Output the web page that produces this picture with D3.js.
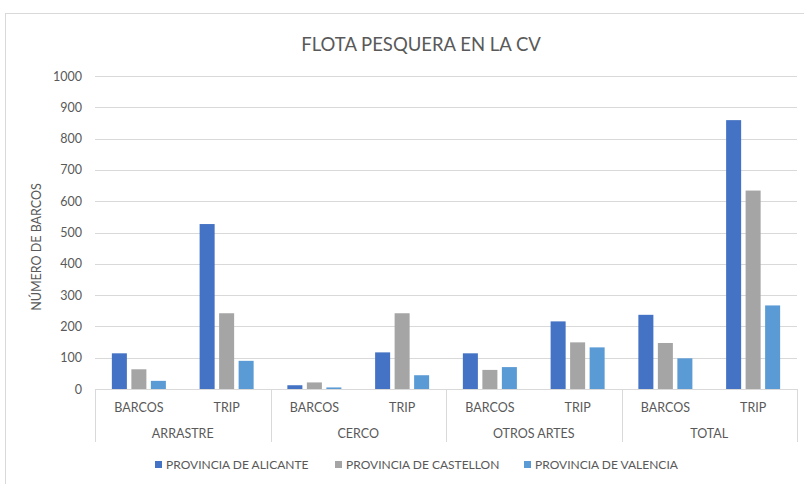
<!DOCTYPE html>
<html><head><meta charset="utf-8">
<script src="https://cdn.jsdelivr.net/npm/d3@7"></script>
<style>body{margin:0;background:#fff;} text{font-family:Lato, "Open Sans", sans-serif;}</style>
</head><body>
<svg id="c" width="804" height="484"></svg>
<script>
const groups = ["ARRASTRE","CERCO","OTROS ARTES","TOTAL"];
const subs = ["BARCOS","TRIP"];
const series = ["PROVINCIA DE ALICANTE","PROVINCIA DE CASTELLON","PROVINCIA DE VALENCIA"];
const colors = ["#4472C4","#A5A5A5","#5B9BD5"];
const alicante = [114,527, 12,117, 114,216, 237,859];
const castellon = [63,242, 21,242, 61,149, 147,634];
const valencia = [26,90, 5,44, 70,133, 98,267];
const yTicks = [0,100,200,300,400,500,600,700,800,900,1000];
const values = [alicante, castellon, valencia];

(function(){
const svg = d3.select("#c");
svg.append("rect").attr("x",5.5).attr("y",13.5).attr("width",820).attr("height",500)
  .attr("fill","#fff").attr("stroke","#d9d9d9");

const pL=95, pR=797, pT=76, pB=389;
const cats = [];
groups.forEach(g=>subs.forEach(s=>cats.push(g+"|"+s)));
const x0 = d3.scaleBand().domain(cats).range([pL,pR]).padding(0);
const x1 = d3.scaleBand().domain(series).range([0,x0.bandwidth()]).paddingInner(0.23).paddingOuter(0.865);
const y = d3.scaleLinear().domain([0,1000]).range([pB,pT]);

svg.append("g").selectAll("line").data(yTicks).join("line")
  .attr("x1",pL).attr("x2",pR).attr("y1",d=>Math.round(y(d))+0.5).attr("y2",d=>Math.round(y(d))+0.5)
  .attr("stroke","#d9d9d9").attr("stroke-width",1);

svg.append("g").selectAll("text").data(yTicks).join("text")
  .attr("x",82).attr("y",d=>y(d)+4.5).attr("text-anchor","end")
  .attr("font-size",12.5).attr("fill","#595959").text(d=>d);

series.forEach((s,si)=>{
  svg.append("g").selectAll("rect").data(values[si]).join("rect")
    .attr("x",(d,i)=>x0(cats[i])+x1(s)).attr("width",x1.bandwidth())
    .attr("y",d=>y(d)).attr("height",d=>y(0)-y(d))
    .attr("fill",colors[si]);
});

const sepX = [pL];
groups.forEach(g=>sepX.push(x0(g+"|TRIP")+x0.bandwidth()));
svg.append("g").selectAll("line").data(sepX).join("line")
  .attr("x1",d=>Math.round(d)+0.5).attr("x2",d=>Math.round(d)+0.5)
  .attr("y1",pB).attr("y2",442).attr("stroke","#d9d9d9");

svg.append("g").selectAll("text").data(cats).join("text")
  .attr("x",d=>x0(d)+x0.bandwidth()/2).attr("y",412).attr("text-anchor","middle")
  .attr("font-size",12.5).attr("fill","#595959").text(d=>d.split("|")[1]);
svg.append("g").selectAll("text").data(groups).join("text")
  .attr("x",d=>x0(d+"|BARCOS")+x0.bandwidth()).attr("y",438).attr("text-anchor","middle")
  .attr("font-size",12.5).attr("fill","#595959").text(d=>d);

svg.append("text").attr("x",421).attr("y",51).attr("text-anchor","middle")
  .attr("font-size",18.5).attr("fill","#595959").text("FLOTA PESQUERA EN LA CV");

svg.append("text").attr("transform","translate(41,247) rotate(-90)").attr("text-anchor","middle")
  .attr("font-size",12.5).attr("fill","#595959").text("NÚMERO DE BARCOS");

const legX = [155,335,524];
const lg = svg.append("g").selectAll("g").data(series).join("g")
  .attr("transform",(d,i)=>`translate(${legX[i]},465)`);
lg.append("rect").attr("x",0).attr("y",-4).attr("width",7).attr("height",7).attr("fill",(d,i)=>colors[i]);
lg.append("text").attr("x",11).attr("y",4).attr("font-size",12).attr("fill","#595959").text(d=>d);
})();
</script>
</body></html>
